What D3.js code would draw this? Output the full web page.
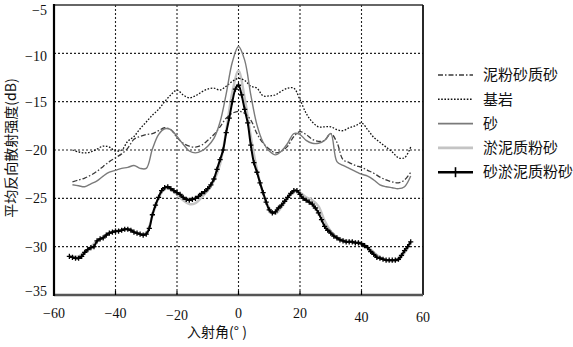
<!DOCTYPE html>
<html>
<head>
<meta charset="utf-8">
<script src="https://cdn.jsdelivr.net/npm/d3@7"></script>
<style>
  html, body { margin: 0; padding: 0; background: #fff; }
  svg { display: block; }
</style>
</head>
<body>
<svg id="chart" width="573" height="347"></svg>
<script>
// Incidence angle grids (degrees)
const anglesCoarse = d3.range(-54, 57, 2);   // -54 .. 56, step 2
const anglesFine = d3.range(-55, 57, 1);     // -55 .. 56, step 1

// Mean backscatter strength (dB) per sediment type
const muddySiltySand = [ // 泥粉砂质砂
  -23.3, -23.1, -22.9, -22.6, -22.2, -21.7, -21.2, -20.8, -20.4, -19.8,
  -18.9, -18.6, -18.4, -18.3, -18.0, -17.7, -17.9, -18.7, -19.3, -19.6,
  -19.7, -19.5, -19.0, -18.4, -17.6, -16.7, -16.2, -16.0, -16.2, -16.9,
  -18.3, -19.3, -19.9, -20.3, -20.1, -19.6, -18.6, -18.1, -18.4, -18.9,
  -19.1, -19.0, -18.3, -19.2, -21.0, -21.3, -21.6, -21.8, -22.1, -22.4,
  -22.8, -23.1, -23.3, -23.4, -23.1, -22.3
];
const bedrock = [ // 基岩
  -20.0, -20.2, -20.3, -20.2, -19.9, -19.6, -19.7, -20.1, -20.0, -19.1,
  -18.6, -17.8, -17.1, -16.4, -15.8, -15.0, -14.3, -13.8, -14.3, -14.6,
  -14.4, -14.0, -13.7, -13.6, -13.8, -13.4, -12.9, -12.6, -12.8, -13.4,
  -13.6, -14.4, -14.4, -14.3, -13.9, -13.6, -13.6, -14.8, -16.2, -17.1,
  -17.6, -17.6, -17.6, -17.9, -18.0, -17.7, -17.5, -17.2, -17.9, -18.7,
  -19.2, -19.7, -20.2, -20.8, -20.8, -19.7
];
const sand = [ // 砂
  -23.6, -23.7, -23.8, -23.5, -23.2, -22.7, -22.3, -22.1, -21.9, -21.8,
  -21.6, -21.9, -21.9, -19.9, -18.4, -17.8, -17.9, -18.6, -19.4, -20.1,
  -20.3, -20.1, -19.6, -18.8, -17.1, -14.2, -10.9, -9.3, -10.7, -14.3,
  -17.4, -19.2, -20.1, -20.5, -20.1, -19.3, -18.3, -18.4, -19.0, -19.3,
  -19.3, -19.0, -18.3, -21.2, -21.6, -21.9, -22.2, -22.5, -22.7, -23.1,
  -23.6, -23.8, -23.9, -24.0, -23.8, -22.7
];
const siltySand = [ // 淤泥质粉砂
  -31.0, -31.0, -30.5, -30.0, -29.4, -29.0, -28.6, -28.4, -28.3, -28.2,
  -28.5, -28.7, -28.6, -26.8, -25.0, -24.0, -24.1, -24.6, -25.2, -25.6,
  -25.5, -24.9, -24.2, -23.2, -21.5, -18.0, -14.0, -11.8, -14.6, -18.6,
  -22.0, -24.5, -26.0, -26.6, -25.9, -25.0, -24.3, -24.4, -24.9, -25.2,
  -25.8, -27.3, -28.4, -29.0, -29.3, -29.4, -29.5, -29.6, -30.0, -30.6,
  -31.1, -31.4, -31.5, -31.4, -30.6, -29.6
];
const sandySiltySand = [ // 砂淤泥质粉砂
  -31.0, -31.1, -31.2, -31.2, -31.0, -30.6, -30.3, -30.1, -30.0, -29.4,
  -29.2, -29.1, -28.8, -28.6, -28.5, -28.4, -28.4, -28.3, -28.2, -28.2,
  -28.3, -28.5, -28.6, -28.7, -28.8, -28.7, -28.1, -26.7, -25.7, -24.9,
  -24.2, -23.9, -23.8, -24.0, -24.2, -24.4, -24.6, -24.9, -25.1, -25.2,
  -25.1, -25.0, -24.8, -24.5, -24.3, -24.0, -23.6, -23.0, -22.0, -21.0,
  -20.0, -18.2, -16.7, -15.0, -13.7, -13.3, -14.3, -15.8, -17.2, -19.5,
  -21.3, -22.3, -23.4, -24.4, -25.4, -26.2, -26.5, -26.4, -26.0, -25.7,
  -25.3, -24.9, -24.5, -24.2, -24.2, -24.6, -25.0, -25.2, -25.4, -25.6,
  -26.0, -26.5, -27.2, -27.9, -28.3, -28.6, -28.9, -29.1, -29.3, -29.4,
  -29.5, -29.5, -29.5, -29.6, -29.6, -29.7, -29.9, -30.1, -30.5, -30.8,
  -31.1, -31.2, -31.3, -31.4, -31.4, -31.4, -31.4, -31.3, -30.9, -30.4,
  -30.0, -29.5
];

const legendLabels = ["泥粉砂质砂", "基岩", "砂", "淤泥质粉砂", "砂淤泥质粉砂"];
const xTicks = [-60, -40, -20, 0, 20, 40, 60];
const yTicks = [-35, -30, -25, -20, -15, -10, -5];
const xTitle = "入射角(°  )";
const yTitle = "平均反向散射强度(dB)";

(function draw() {
  const svg = d3.select("#chart");
  const plotL = 54, plotR = 423, plotT = 5, plotB = 295;
  const x = d3.scaleLinear().domain([-60, 60]).range([plotL, plotR]);
  const y = d3.scaleLinear().domain([-35, -5]).range([plotB, plotT]);

  const numFont = "'Liberation Serif', 'Times New Roman', serif";
  const cjkFont = "'Noto Sans CJK SC', 'Noto Sans', sans-serif";

  svg.append("rect").attr("width", 573).attr("height", 347).attr("fill", "#fff");

  // dotted grid
  const grid = svg.append("g").attr("stroke", "#222").attr("stroke-width", 1.1)
    .attr("stroke-dasharray", "2,2");
  grid.selectAll("line.v").data(xTicks.slice(1, -1)).join("line").attr("class", "v")
    .attr("x1", d => x(d)).attr("x2", d => x(d)).attr("y1", plotT).attr("y2", plotB);
  grid.selectAll("line.h").data(yTicks.slice(1, -1)).join("line").attr("class", "h")
    .attr("x1", plotL).attr("x2", plotR).attr("y1", d => y(d)).attr("y2", d => y(d));

  // series styles
  const series = [
    { name: legendLabels[0], ang: anglesCoarse, val: muddySiltySand, color: "#3a3a3a", width: 1.3, dash: "5,2,1.5,2" },
    { name: legendLabels[1], ang: anglesCoarse, val: bedrock, color: "#111", width: 1.3, dash: "1.6,1.6" },
    { name: legendLabels[2], ang: anglesCoarse, val: sand, color: "#7a7a7a", width: 1.4, dash: null },
    { name: legendLabels[3], ang: anglesCoarse, val: siltySand, color: "#c4c4c4", width: 2.4, dash: null },
    { name: legendLabels[4], ang: anglesFine, val: sandySiltySand, color: "#000", width: 2, dash: null, marker: true }
  ];

  const line = d3.line().x(d => x(d[0])).y(d => y(d[1])).curve(d3.curveCatmullRom.alpha(0.5));
  const drawOrder = [3, 1, 0, 2, 4];
  drawOrder.forEach(i => {
    const s = series[i];
    const pts = s.ang.map((a, k) => [a, s.val[k]]);
    svg.append("path").datum(pts)
      .attr("fill", "none").attr("stroke", s.color).attr("stroke-width", s.width)
      .attr("stroke-dasharray", s.dash).attr("stroke-linejoin", "round")
      .attr("d", line);
    if (s.marker) {
      svg.append("g").selectAll("path").data(pts).join("path")
        .attr("d", d => {
          const cx = x(d[0]), cy = y(d[1]), r = 2.6;
          return `M${cx - r},${cy}H${cx + r}M${cx},${cy - r}V${cy + r}`;
        })
        .attr("stroke", "#000").attr("stroke-width", 1.3).attr("fill", "none");
    }
  });

  // frame
  svg.append("line").attr("x1", plotL).attr("x2", plotR).attr("y1", plotT).attr("y2", plotT)
    .attr("stroke", "#333").attr("stroke-width", 1.5);
  svg.append("line").attr("x1", plotR).attr("x2", plotR).attr("y1", plotT).attr("y2", plotB)
    .attr("stroke", "#111").attr("stroke-width", 1.8);
  svg.append("line").attr("x1", plotL).attr("x2", plotR).attr("y1", plotB).attr("y2", plotB)
    .attr("stroke", "#555").attr("stroke-width", 2.4);
  svg.append("line").attr("x1", plotL).attr("x2", plotL).attr("y1", plotT - 1).attr("y2", plotB + 1)
    .attr("stroke", "#000").attr("stroke-width", 2.2);

  // bottom tick marks
  svg.append("g").selectAll("line").data(xTicks.slice(1, -1)).join("line")
    .attr("x1", d => x(d)).attr("x2", d => x(d)).attr("y1", plotB).attr("y2", plotB - 4)
    .attr("stroke", "#000").attr("stroke-width", 1.2);

  // tick labels
  const fmt = d3.format("");
  svg.append("g").selectAll("text").data(yTicks).join("text")
    .attr("x", 47).attr("y", d => y(d))
    .attr("dy", d => d === -5 ? "0.7em" : (d === -35 ? "0.1em" : (d === -10 ? "0.55em" : "0.35em")))
    .attr("text-anchor", "end").attr("font-family", numFont).attr("font-size", 14)
    .attr("fill", "#111").text(d => fmt(d));
  svg.append("g").selectAll("text").data(xTicks).join("text")
    .attr("x", d => x(d)).attr("y", d => d >= 40 ? 322 : (d === -20 ? 320 : 318))
    .attr("text-anchor", "middle").attr("font-family", numFont).attr("font-size", 14)
    .attr("fill", "#111").text(d => fmt(d));

  // axis titles
  svg.append("text").attr("x", 217).attr("y", 337).attr("text-anchor", "middle")
    .attr("font-family", cjkFont).attr("font-size", 14).attr("fill", "#111").text(xTitle);
  svg.append("text").attr("transform", "translate(16,148) rotate(-90)").attr("text-anchor", "middle")
    .attr("font-family", cjkFont).attr("font-size", 14).attr("fill", "#111").text(yTitle);

  // legend
  const lg = svg.append("g");
  series.forEach((s, i) => {
    const cy = 75 + i * 24.3;
    lg.append("line").attr("x1", 438).attr("x2", 473).attr("y1", cy).attr("y2", cy)
      .attr("stroke", s.color).attr("stroke-width", s.marker ? 2.4 : s.width + 0.2)
      .attr("stroke-dasharray", s.dash);
    if (s.marker) {
      lg.append("path").attr("d", `M455.5,${cy - 5}V${cy + 5}`)
        .attr("stroke", "#000").attr("stroke-width", 1.6);
    }
    lg.append("text").attr("x", 483).attr("y", cy).attr("dy", "0.35em")
      .attr("font-family", cjkFont).attr("font-size", 15).attr("fill", "#111").text(s.name);
  });
})();
</script>
</body>
</html>
